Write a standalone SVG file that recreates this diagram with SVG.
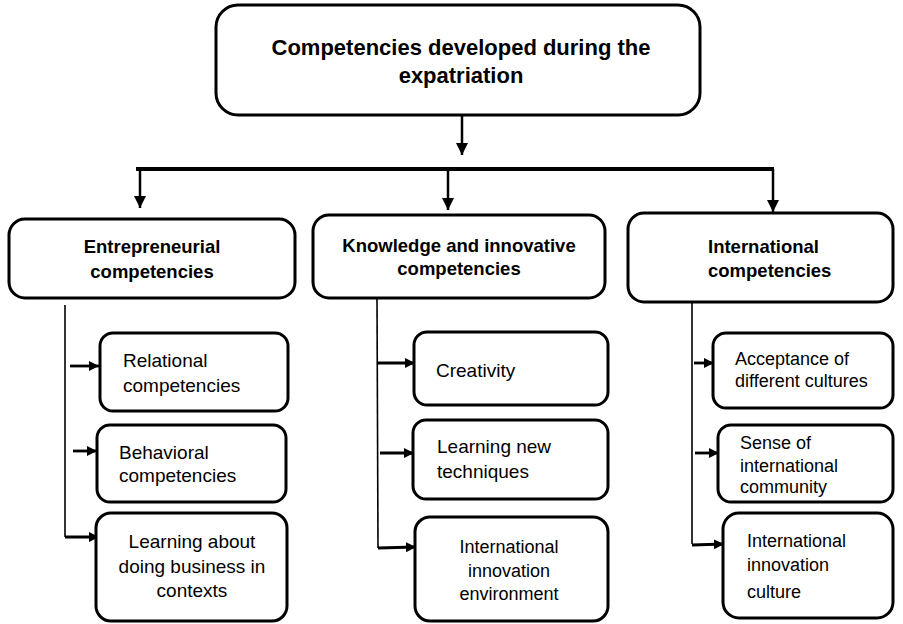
<svg xmlns="http://www.w3.org/2000/svg" width="903" height="624" viewBox="0 0 903 624">
  <style>
    .box { fill: #fff; stroke: #000; stroke-width: 3; }
    .title { font-family: "Liberation Sans", Arial, sans-serif; font-weight: bold; fill: #000; }
    .label { font-family: "Liberation Sans", Arial, sans-serif; fill: #000; }
    .main { stroke: #000; stroke-width: 2.5; fill: none; }
    .bar { stroke: #000; stroke-width: 4; fill: none; }
    .trunk { stroke: #000; stroke-width: 1.6; fill: none; }
    .branch { stroke: #000; stroke-width: 2.8; fill: none; }
  </style>
  <defs>
    <marker id="headBig" viewBox="0 0 12 12" refX="12" refY="6" markerWidth="12" markerHeight="13" markerUnits="userSpaceOnUse" orient="auto">
      <path d="M0,0 L12,6 L0,12 z" fill="#000"/>
    </marker>
    <marker id="headSmall" viewBox="0 0 10 10" refX="10" refY="5" markerWidth="10" markerHeight="11" markerUnits="userSpaceOnUse" orient="auto">
      <path d="M0,0 L10,5 L0,10 z" fill="#000"/>
    </marker>
  </defs>

  <!-- connectors -->
  <g id="connectors">
    <line class="main" x1="462" y1="115" x2="462" y2="155" marker-end="url(#headBig)"/>
    <line class="bar" x1="136" y1="169" x2="774" y2="169"/>
    <line class="main" x1="140" y1="169" x2="140" y2="208" marker-end="url(#headBig)"/>
    <line class="main" x1="448" y1="169" x2="448" y2="210" marker-end="url(#headBig)"/>
    <line class="main" x1="773" y1="169" x2="773" y2="212" marker-end="url(#headBig)"/>

    <!-- entrepreneurial branch -->
    <polyline class="trunk" points="65,305 65,537"/>
    <line class="branch" x1="70" y1="366" x2="99" y2="366" marker-end="url(#headSmall)"/>
    <line class="branch" x1="73" y1="451" x2="97" y2="451" marker-end="url(#headSmall)"/>
    <line class="branch" x1="65" y1="537" x2="99" y2="537" marker-end="url(#headSmall)"/>

    <!-- knowledge branch -->
    <polyline class="trunk" points="377,298 378,548"/>
    <line class="branch" x1="377" y1="363" x2="415" y2="363" marker-end="url(#headSmall)"/>
    <line class="branch" x1="380" y1="453" x2="414" y2="453" marker-end="url(#headSmall)"/>
    <line class="branch" x1="378" y1="548" x2="416" y2="547" marker-end="url(#headSmall)"/>

    <!-- international branch -->
    <polyline class="trunk" points="692,302 692,544"/>
    <line class="branch" x1="694" y1="363" x2="714" y2="363" marker-end="url(#headSmall)"/>
    <line class="branch" x1="695" y1="453" x2="719" y2="453" marker-end="url(#headSmall)"/>
    <line class="branch" x1="692" y1="545" x2="724" y2="544" marker-end="url(#headSmall)"/>
  </g>

  <g id="root">
    <rect class="box" x="216" y="5" width="484" height="110" rx="22"/>
    <text class="title" font-size="22" text-anchor="middle" x="461" y="55">Competencies developed during the</text>
    <text class="title" font-size="22" text-anchor="middle" x="461" y="83">expatriation</text>
  </g>

  <g id="entrepreneurial">
    <rect class="box" x="9" y="219" width="286" height="79" rx="16"/>
    <text class="title" font-size="18.5" text-anchor="middle" x="152" y="253">Entrepreneurial</text>
    <text class="title" font-size="18.5" text-anchor="middle" x="152" y="278">competencies</text>
  </g>

  <g id="knowledge">
    <rect class="box" x="313" y="215" width="292" height="83" rx="16"/>
    <text class="title" font-size="18.5" text-anchor="middle" x="459" y="252">Knowledge and innovative</text>
    <text class="title" font-size="18.5" text-anchor="middle" x="459" y="275">competencies</text>
  </g>

  <g id="international">
    <rect class="box" x="628" y="213" width="265" height="89" rx="16"/>
    <text class="title" font-size="18.5" x="708" y="253">International</text>
    <text class="title" font-size="18.5" x="708" y="277">competencies</text>
  </g>

  <g id="relational">
    <rect class="box" x="100" y="333" width="188" height="78" rx="13"/>
    <text class="label" font-size="19" x="123" y="367">Relational</text>
    <text class="label" font-size="19" x="123" y="392">competencies</text>
  </g>

  <g id="behavioral">
    <rect class="box" x="97" y="425" width="189" height="77" rx="13"/>
    <text class="label" font-size="19" x="119" y="459">Behavioral</text>
    <text class="label" font-size="19" x="119" y="482">competencies</text>
  </g>

  <g id="business">
    <rect class="box" x="96" y="513" width="191" height="108" rx="15"/>
    <text class="label" font-size="19" text-anchor="middle" x="192" y="548">Learning about</text>
    <text class="label" font-size="19" text-anchor="middle" x="192" y="573">doing business in</text>
    <text class="label" font-size="19" text-anchor="middle" x="192" y="597">contexts</text>
  </g>

  <g id="creativity">
    <rect class="box" x="414" y="332" width="194" height="73" rx="13"/>
    <text class="label" font-size="19" x="436" y="377">Creativity</text>
  </g>

  <g id="techniques">
    <rect class="box" x="413" y="420" width="195" height="79" rx="13"/>
    <text class="label" font-size="19" x="437" y="453">Learning new</text>
    <text class="label" font-size="19" x="437" y="478">techniques</text>
  </g>

  <g id="environment">
    <rect class="box" x="415" y="517" width="193" height="104" rx="15"/>
    <text class="label" font-size="18" text-anchor="middle" x="509" y="553">International</text>
    <text class="label" font-size="18" text-anchor="middle" x="509" y="577">innovation</text>
    <text class="label" font-size="18" text-anchor="middle" x="509" y="600">environment</text>
  </g>

  <g id="cultures">
    <rect class="box" x="713" y="333" width="180" height="75" rx="13"/>
    <text class="label" font-size="18" x="735" y="365">Acceptance of</text>
    <text class="label" font-size="18" x="735" y="387">different cultures</text>
  </g>

  <g id="community">
    <rect class="box" x="718" y="425" width="175" height="77" rx="13"/>
    <text class="label" font-size="18" x="740" y="449">Sense of</text>
    <text class="label" font-size="18" x="740" y="472">international</text>
    <text class="label" font-size="18" x="740" y="493">community</text>
  </g>

  <g id="culture">
    <rect class="box" x="723" y="513" width="170" height="105" rx="16"/>
    <text class="label" font-size="18" x="747" y="547">International</text>
    <text class="label" font-size="18" x="747" y="571">innovation</text>
    <text class="label" font-size="18" x="747" y="598">culture</text>
  </g>
</svg>
